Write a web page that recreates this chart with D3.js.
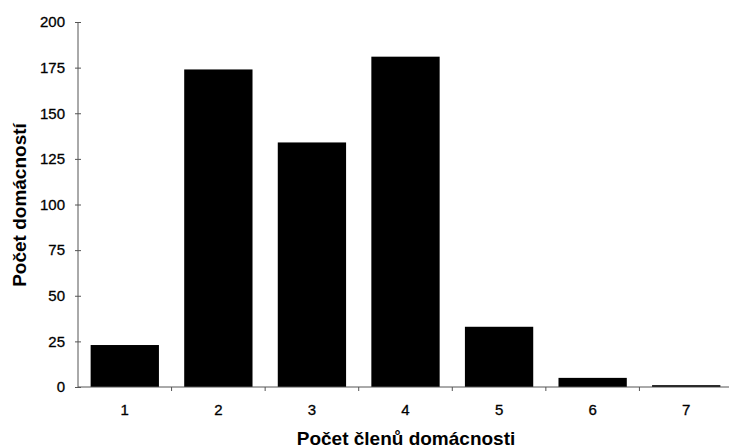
<!DOCTYPE html>
<html><head><meta charset="utf-8">
<script src="https://cdn.jsdelivr.net/npm/d3@7"></script>
<style>body{margin:0;background:#fff}svg{display:block}</style>
</head><body>
<svg id="c" width="729" height="448"></svg>
<script>
const categories = ["1","2","3","4","5","6","7"];
const values = [23, 174, 134, 181, 33, 5, 1];
const yTicks = [0,25,50,75,100,125,150,175,200];
const xTitle = "Počet členů domácnosti";
const yTitle = "Počet domácností";

const svg = d3.select("#c");
const m = {left:78, top:22, bottom:387, right:733};
const font = "Liberation Sans, Arial, sans-serif";
const x = d3.scaleBand().domain(categories).range([m.left, m.right]).paddingInner(0.27).paddingOuter(0.135);
const y = d3.scaleLinear().domain([0,200]).range([m.bottom, m.top]);

svg.selectAll("rect.bar").data(values).join("rect")
  .attr("class","bar")
  .attr("x",(d,i)=>x(categories[i]))
  .attr("width",x.bandwidth())
  .attr("y",d=>y(d))
  .attr("height",d=>y(0)-y(d))
  .attr("fill","#000");

// y axis
const ya = svg.append("g").attr("transform",`translate(${m.left},0)`)
  .call(d3.axisLeft(y).tickValues(yTicks).tickSize(3).tickPadding(10));
ya.selectAll(".tick line").attr("x2",3).attr("x1",-3).attr("stroke","#555");
ya.select(".domain").attr("stroke","#555").attr("d",`M0,${m.top}V${m.bottom}`);
ya.selectAll("text").attr("font-family",font).attr("font-size",15).attr("fill","#000")
  .attr("stroke","#000").attr("stroke-width",0.3);

// x axis
const xa = svg.append("g").attr("transform",`translate(0,${m.bottom})`)
  .call(d3.axisBottom(x).tickSize(0).tickPadding(17));
xa.select(".domain").attr("stroke","#555").attr("d",`M${m.left},0H${m.right}`);
xa.selectAll("text").attr("font-family",font).attr("font-size",15).attr("fill","#000")
  .attr("stroke","#000").attr("stroke-width",0.3);
const step = x.step();
const bounds = d3.range(1, categories.length).map(i => m.left + x.paddingOuter()*step - x.paddingInner()*step/2 + i*step);
svg.append("g").selectAll("line").data(bounds).join("line")
  .attr("x1",d=>d).attr("x2",d=>d).attr("y1",m.bottom).attr("y2",m.bottom+4).attr("stroke","#555");

svg.append("text").attr("x",406).attr("y",445).attr("text-anchor","middle")
  .attr("font-family",font).attr("font-weight","bold").attr("font-size",19).text(xTitle);
svg.append("text").attr("transform","translate(26,205) rotate(-90)").attr("text-anchor","middle")
  .attr("font-family",font).attr("font-weight","bold").attr("font-size",19).text(yTitle);
</script>
</body></html>
